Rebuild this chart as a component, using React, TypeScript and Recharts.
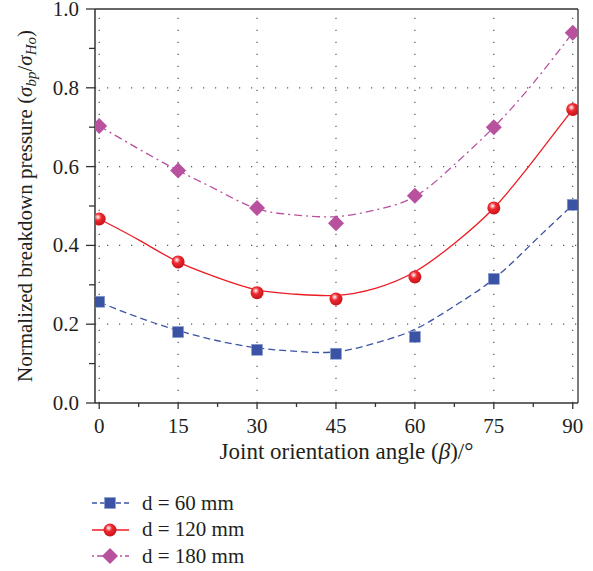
import React from "react";
import {
  ComposedChart,
  Line,
  Scatter,
  XAxis,
  YAxis,
  ReferenceLine,
  Label,
} from "recharts";

// measured points
const angles = [0, 15, 30, 45, 60, 75, 90];
const d60 = [0.257, 0.18, 0.135, 0.125, 0.168, 0.315, 0.503];
const d120 = [0.467, 0.358, 0.28, 0.264, 0.32, 0.495, 0.745];
const d180 = [0.703, 0.59, 0.495, 0.456, 0.526, 0.7, 0.94];

// fitted curves
const fitAngles = [0, 7.5, 15, 22.5, 30, 37.5, 45, 52.5, 60, 67.5, 75, 82.5, 90];
const fit60 = [0.256, 0.217, 0.184, 0.158, 0.14, 0.131, 0.13, 0.152, 0.187, 0.246, 0.315, 0.408, 0.503];
const fit120 = [0.467, 0.414, 0.358, 0.318, 0.287, 0.276, 0.273, 0.291, 0.333, 0.405, 0.495, 0.615, 0.745];
const fit180 = [0.703, 0.645, 0.59, 0.54, 0.493, 0.477, 0.473, 0.49, 0.524, 0.605, 0.7, 0.812, 0.94];

const xTicks = [0, 7.5, 15, 22.5, 30, 37.5, 45, 52.5, 60, 67.5, 75, 82.5, 90];
const yTicks = [0, 0.1, 0.2, 0.3, 0.4, 0.5, 0.6, 0.7, 0.8, 0.9, 1.0];
const gridX = [0, 15, 30, 45, 60, 75, 90];
const gridY = [0.2, 0.4, 0.6, 0.8];

const BLUE = "#3a53a4";
const RED = "#ec1c24";
const PURPLE = "#b8519e";
const AXIS = "#333333";
const TEXT = "#231f20";
const FONT = "Liberation Serif";

const toPts = (xs: number[], ys: number[]) => xs.map((x, i) => ({ x, y: ys[i] }));

const series = [
  { name: "d = 60 mm", color: BLUE, dash: "7 4", legendDash: "5 3", pts: toPts(angles, d60), fit: toPts(fitAngles, fit60), marker: "square" },
  { name: "d = 120 mm", color: RED, dash: undefined, legendDash: undefined, pts: toPts(angles, d120), fit: toPts(fitAngles, fit120), marker: "ball" },
  { name: "d = 180 mm", color: PURPLE, dash: "8 4 2 4", legendDash: "2 3 6 3", pts: toPts(angles, d180), fit: toPts(fitAngles, fit180), marker: "diamond" },
];

const Marker = ({ kind, cx, cy }: { kind: string; cx: number; cy: number }) => {
  if (kind === "square")
    return <rect x={cx - 5.5} y={cy - 5.5} width={11} height={11} fill={BLUE} stroke="#8fa0d0" strokeWidth={0.6} />;
  if (kind === "ball")
    return <circle cx={cx} cy={cy} r={6.5} fill="url(#redBall)" />;
  return (
    <polygon
      points={`${cx},${cy - 8} ${cx + 8},${cy} ${cx},${cy + 8} ${cx - 8},${cy}`}
      fill={PURPLE}
    />
  );
};

const XTick = (props: any) => {
  const { x, y, payload } = props;
  const major = payload.value % 15 === 0;
  return (
    <g>
      <line x1={x} x2={x} y1={y} y2={y + (major ? 6 : 4)} stroke={AXIS} strokeWidth={1.3} />
      {major && (
        <text x={x} y={y + 30} textAnchor="middle" fontFamily={FONT} fontSize={21} fill={TEXT}>
          {payload.value}
        </text>
      )}
    </g>
  );
};

const YTick = (props: any) => {
  const { x, y, payload } = props;
  const major = Math.round(payload.value * 10) % 2 === 0;
  return (
    <g>
      <line x1={x - (major ? 9 : 6)} x2={x} y1={y} y2={y} stroke={AXIS} strokeWidth={1.3} />
      {major && (
        <text x={x - 16} y={y + 7} textAnchor="end" fontFamily={FONT} fontSize={21} fill={TEXT}>
          {payload.value.toFixed(1)}
        </text>
      )}
    </g>
  );
};

const YTitle = (props: any) => {
  const vb = props.viewBox || { x: 0, y: 9, width: 95, height: 394 };
  const cx = 32;
  const cy = vb.y + vb.height / 2;
  return (
    <text
      transform={`translate(${cx},${cy}) rotate(-90)`}
      textAnchor="middle"
      fontFamily={FONT}
      fontSize={21}
      fill={TEXT}
    >
      Normalized breakdown pressure (
      <tspan fontStyle="italic">σ</tspan>
      <tspan fontStyle="italic" fontSize={15} dy={4}>bp</tspan>
      <tspan dy={-4}>/</tspan>
      <tspan fontStyle="italic">σ</tspan>
      <tspan fontStyle="italic" fontSize={15} dy={4}>Ho</tspan>
      <tspan dy={-4}>)</tspan>
    </text>
  );
};

const XTitle = (props: any) => {
  const vb = props.viewBox || { x: 95, y: 403, width: 483, height: 77 };
  return (
    <text
      x={vb.x + vb.width / 2 + 10}
      y={vb.y + 56}
      textAnchor="middle"
      fontFamily={FONT}
      fontSize={23}
      fill={TEXT}
    >
      Joint orientation angle (<tspan fontStyle="italic">β</tspan>)/°
    </text>
  );
};

const LegendIcon = ({ s }: { s: (typeof series)[number] }) => (
  <svg width={38} height={20} style={{ display: "block" }}>
    <line x1={0} x2={37} y1={10} y2={10} stroke={s.color} strokeWidth={1.3} strokeDasharray={s.legendDash} />
    <Marker kind={s.marker} cx={18} cy={10} />
  </svg>
);

export default function App() {
  return (
    <div style={{ position: "absolute", left: 0, top: 0, width: 593, height: 571, background: "#fff" }}>
      <svg width={0} height={0} style={{ position: "absolute" }}>
        <defs>
          <radialGradient id="redBall" cx="40%" cy="35%" r="65%">
            <stop offset="0%" stopColor="#ffffff" />
            <stop offset="18%" stopColor="#f6a0a4" />
            <stop offset="40%" stopColor="#ee2a30" />
            <stop offset="100%" stopColor="#c8121a" />
          </radialGradient>
        </defs>
      </svg>
      <ComposedChart width={593} height={480} margin={{ top: 9, right: 15, left: 0, bottom: 0 }}>
        <XAxis
          dataKey="x"
          type="number"
          domain={[-0.8, 91]}
          ticks={xTicks}
          interval={0}
          allowDataOverflow
          height={77}
          stroke={AXIS}
          strokeWidth={1.5}
          tickLine={false}
          tickSize={0}
          tickMargin={0}
          tick={<XTick />}
        >
          <Label content={<XTitle />} />
        </XAxis>
        <YAxis
          type="number"
          domain={[0, 1]}
          ticks={yTicks}
          interval={0}
          width={95}
          stroke={AXIS}
          strokeWidth={1.5}
          tickLine={false}
          tickSize={0}
          tickMargin={0}
          tick={<YTick />}
        >
          <Label content={<YTitle />} />
        </YAxis>
        {gridX.map((v) => (
          <ReferenceLine key={"gx" + v} x={v} stroke="#555" strokeWidth={1.2} strokeDasharray="1.2 10.8" />
        ))}
        {gridY.map((v) => (
          <ReferenceLine key={"gy" + v} y={v} stroke="#555" strokeWidth={1.2} strokeDasharray="1.2 10.8" />
        ))}
        <ReferenceLine y={1} stroke={AXIS} strokeWidth={1.3} />
        <ReferenceLine x={91} stroke={AXIS} strokeWidth={1.3} />
        {series.map((s) => (
          <Line
            key={s.name + "fit"}
            data={s.fit}
            dataKey="y"
            type="natural"
            stroke={s.color}
            strokeWidth={1.3}
            strokeDasharray={s.dash}
            dot={false}
            activeDot={false}
            isAnimationActive={false}
          />
        ))}
        {series.map((s) => (
          <Scatter
            key={s.name}
            data={s.pts}
            dataKey="y"
            isAnimationActive={false}
            shape={(p: any) => <Marker kind={s.marker} cx={p.cx} cy={p.cy} />}
          />
        ))}
      </ComposedChart>
      <div style={{ paddingTop: 10, fontFamily: FONT, fontSize: 21, color: TEXT }}>
        {series.map((s) => (
          <div key={s.name} style={{ display: "flex", alignItems: "center", height: 26.5, marginLeft: 92 }}>
            <LegendIcon s={s} />
            <span style={{ marginLeft: 12 }}>{s.name}</span>
          </div>
        ))}
      </div>
    </div>
  );
}
